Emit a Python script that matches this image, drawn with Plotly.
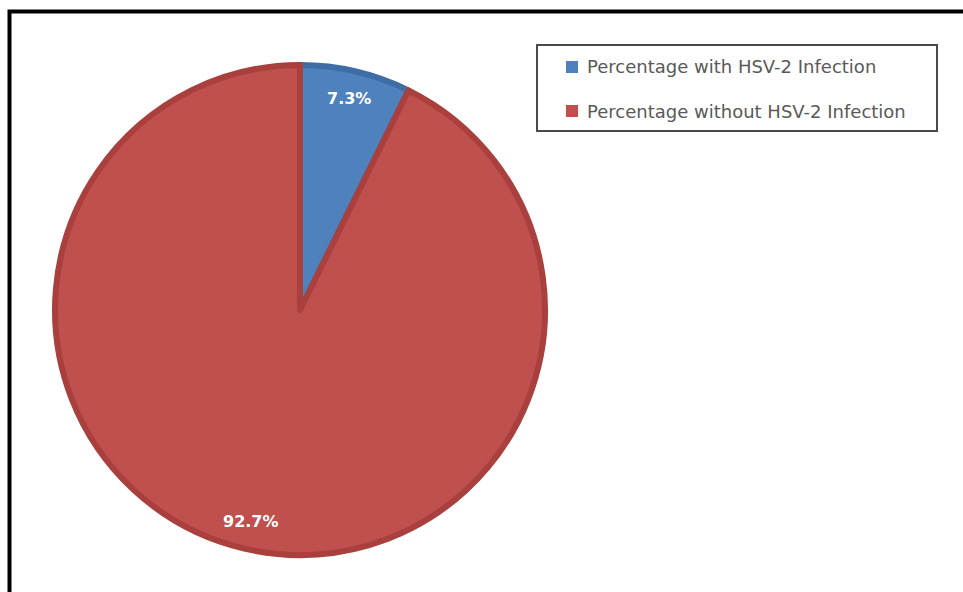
import math
import plotly.graph_objects as go

# Chart data
labels = ["Percentage with HSV-2 Infection", "Percentage without HSV-2 Infection"]
values = [7.3, 92.7]
fill_colors = ["#4F81BD", "#C0504D"]
edge_colors = ["#3E6DA6", "#A9403D"]

W, H = 963, 592
cx, cy, r = 300, 310, 245  # pie centre and radius in pixels


def px(x):
    return x / W


def py(y):
    return 1 - y / H


fig = go.Figure(
    go.Pie(
        labels=labels,
        values=values,
        sort=False,
        direction="clockwise",
        rotation=0,
        marker=dict(colors=fill_colors, line=dict(color=edge_colors, width=6)),
        textinfo="none",
        hoverinfo="label+percent",
        showlegend=False,
        domain=dict(x=[px(cx - r), px(cx + r)], y=[py(cy + r), py(cy - r)]),
    )
)

# Percentage labels placed near the rim at each slice's mid-angle
total = sum(values)
annotations = []
start = 0.0
for v in values:
    frac = v / total
    mid = (start + frac / 2) * 2 * math.pi
    start += frac
    lx = cx + 0.885 * r * math.sin(mid)
    ly = cy - 0.885 * r * math.cos(mid)
    annotations.append(
        dict(
            x=px(lx), y=py(ly), xref="paper", yref="paper",
            text=f"<b>{v:.1f}%</b>", showarrow=False,
            font=dict(family="DejaVu Sans, sans-serif", size=16, color="white"),
            xanchor="center", yanchor="middle",
        )
    )

# Legend drawn as box, swatches and text
shapes = [
    # outer frame
    dict(type="rect", xref="paper", yref="paper",
         x0=px(9.5), x1=1.05, y0=-0.05, y1=py(11.5),
         line=dict(color="black", width=4), fillcolor="rgba(0,0,0,0)"),
    # legend border
    dict(type="rect", xref="paper", yref="paper",
         x0=px(537), x1=px(937), y0=py(131), y1=py(45),
         line=dict(color="#4a4a4a", width=2), fillcolor="white"),
]
legend_rows = [67, 111]
for lab, col, ry in zip(labels, fill_colors, legend_rows):
    shapes.append(
        dict(type="rect", xref="paper", yref="paper",
             x0=px(566), x1=px(578), y0=py(ry + 6), y1=py(ry - 6),
             line=dict(width=0), fillcolor=col)
    )
    annotations.append(
        dict(x=px(585), y=py(ry), xref="paper", yref="paper",
             text=lab, showarrow=False, xanchor="left", yanchor="middle",
             font=dict(family="DejaVu Sans, sans-serif", size=18, color="#595959"))
    )

fig.update_layout(
    width=W, height=H,
    margin=dict(l=0, r=0, t=0, b=0),
    paper_bgcolor="white",
    plot_bgcolor="white",
    shapes=shapes,
    annotations=annotations,
)

fig.write_html("out.html")
